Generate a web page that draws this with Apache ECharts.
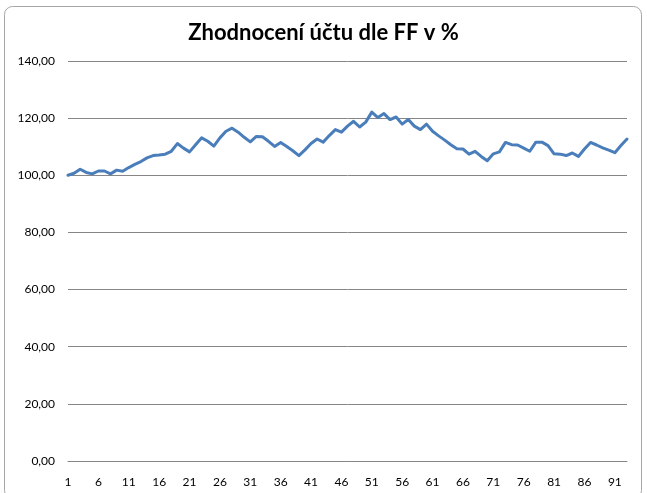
<!DOCTYPE html>
<html>
<head>
<meta charset="utf-8">
<script src="https://cdn.jsdelivr.net/npm/echarts@6/dist/echarts.min.js"></script>
<style>
html,body{margin:0;padding:0;background:#fff;}
#c{width:647px;height:493px;}
</style>
</head>
<body>
<div id="c"></div>
<script>
const titleText = 'Zhodnocení účtu dle FF v %';
const yTicks = [0, 20, 40, 60, 80, 100, 120, 140];
const values = [
  100.0, 100.7, 102.1, 101.0, 100.5, 101.5, 101.5, 100.5, 101.8, 101.4,
  102.7, 103.8, 104.8, 106.1, 106.9, 107.1, 107.4, 108.4, 111.1, 109.5,
  108.2, 110.7, 113.1, 111.9, 110.2, 113.1, 115.4, 116.5, 115.1, 113.3,
  111.7, 113.6, 113.5, 111.9, 110.1, 111.5, 110.1, 108.6, 106.9, 108.9,
  111.1, 112.7, 111.6, 113.9, 116.0, 115.1, 117.2, 118.9, 116.9, 118.6,
  122.1, 120.2, 121.6, 119.5, 120.4, 117.9, 119.5, 117.2, 116.0, 117.9,
  115.4, 113.8, 112.3, 110.7, 109.3, 109.2, 107.4, 108.4, 106.6, 105.1,
  107.5, 108.2, 111.5, 110.7, 110.6, 109.5, 108.4, 111.6, 111.6, 110.4,
  107.5, 107.4, 106.9, 107.8, 106.6, 109.2, 111.5, 110.6, 109.6, 108.8,
  107.9, 110.4, 112.7
];
const categories = values.map((v, i) => String(i + 1));

const chart = echarts.init(document.getElementById('c'), null, {renderer: 'canvas'});
chart.setOption({
  backgroundColor: '#ffffff',
  animation: false,
  title: {
    text: titleText,
    left: 'center',
    top: 17,
    textStyle: {fontFamily: 'Lato', fontWeight: 'bold', fontSize: 22, color: '#000'}
  },
  graphic: [{
    type: 'rect',
    shape: {x: 4.5, y: 6.5, width: 637, height: 492, r: 8},
    style: {fill: 'none', stroke: '#a6a6a6', lineWidth: 1},
    silent: true,
    z: -1
  }],
  grid: {left: 68, right: 20, top: 61, bottom: 32, containLabel: false},
  xAxis: {
    type: 'category',
    data: categories,
    boundaryGap: false,
    axisLine: {show: true, lineStyle: {color: '#868686', width: 1}},
    axisTick: {show: false},
    axisLabel: {interval: 4, margin: 15, fontFamily: 'Lato', fontSize: 12, color: '#000'},
    splitLine: {show: false}
  },
  yAxis: {
    type: 'value',
    min: yTicks[0],
    max: yTicks[yTicks.length - 1],
    interval: 20,
    axisLine: {show: false},
    axisTick: {show: false},
    axisLabel: {
      margin: 13, fontFamily: 'Lato', fontSize: 12, color: '#000',
      formatter: v => v.toFixed(2).replace('.', ',')
    },
    splitLine: {show: true, lineStyle: {color: '#868686', width: 1}}
  },
  series: [{
    type: 'line',
    data: values,
    showSymbol: false,
    smooth: false,
    lineStyle: {color: '#4a7ebb', width: 3, join: 'round', cap: 'round'},
    itemStyle: {color: '#4a7ebb'}
  }]
});
</script>
</body>
</html>
